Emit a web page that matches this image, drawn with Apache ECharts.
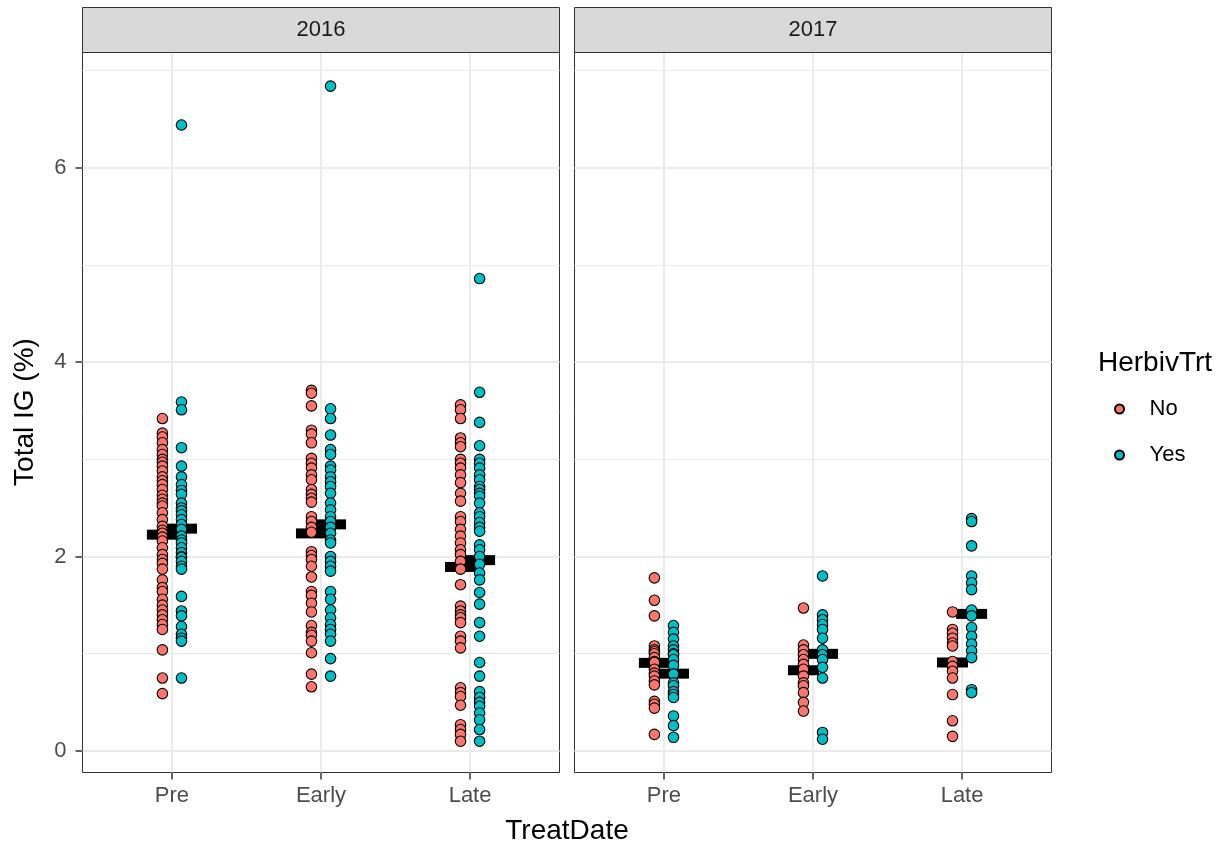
<!DOCTYPE html>
<html><head><meta charset="utf-8">
<script src="https://cdn.jsdelivr.net/npm/echarts@6/dist/echarts.min.js"></script>
<style>html,body{margin:0;padding:0;background:#fff}#chart{width:1226px;height:848px}</style>
</head><body><div id="chart"></div>
<script>
const categories = ['Pre', 'Early', 'Late'];
const years = ['2016', '2017'];
const groups = ['No', 'Yes'];
const yTickValues = [0, 2, 4, 6];
const yMinorValues = [1, 3, 5, 7];

// 2016, HerbivTrt = No
const no2016Pre = [3.42, 3.27, 3.23, 3.17, 3.10, 3.05, 3.00, 2.97, 2.93, 2.88, 2.82, 2.78, 2.74, 2.69, 2.63, 2.59, 2.55, 2.52, 2.45, 2.38, 2.31, 2.27, 2.24, 2.20, 2.16, 2.09, 2.02, 1.97, 1.93, 1.87, 1.76, 1.68, 1.64, 1.56, 1.50, 1.45, 1.40, 1.35, 1.30, 1.25, 1.04, 0.75, 0.59];
const no2016Early = [3.71, 3.68, 3.55, 3.30, 3.26, 3.17, 3.01, 2.96, 2.91, 2.84, 2.79, 2.69, 2.64, 2.60, 2.56, 2.41, 2.36, 2.30, 2.25, 2.05, 2.01, 1.97, 1.90, 1.79, 1.64, 1.60, 1.52, 1.43, 1.29, 1.22, 1.19, 1.13, 1.01, 0.79, 0.66];
const no2016Late = [3.56, 3.51, 3.42, 3.22, 3.17, 3.13, 3.00, 2.96, 2.91, 2.84, 2.76, 2.65, 2.57, 2.41, 2.36, 2.28, 2.21, 2.14, 2.07, 2.02, 1.95, 1.87, 1.71, 1.49, 1.44, 1.40, 1.37, 1.32, 1.18, 1.13, 1.06, 0.65, 0.60, 0.56, 0.47, 0.27, 0.22, 0.17, 0.10];
// 2016, HerbivTrt = Yes
const yes2016Pre = [6.44, 3.59, 3.51, 3.12, 2.93, 2.82, 2.74, 2.68, 2.64, 2.55, 2.50, 2.47, 2.43, 2.38, 2.33, 2.28, 2.21, 2.17, 2.14, 2.09, 2.04, 2.00, 1.99, 1.95, 1.90, 1.87, 1.59, 1.44, 1.39, 1.28, 1.20, 1.16, 1.13, 0.75];
const yes2016Early = [6.84, 3.52, 3.42, 3.25, 3.10, 3.05, 2.93, 2.89, 2.82, 2.77, 2.72, 2.65, 2.55, 2.48, 2.41, 2.36, 2.30, 2.24, 2.17, 2.14, 2.00, 1.95, 1.90, 1.85, 1.64, 1.56, 1.45, 1.37, 1.30, 1.25, 1.20, 1.13, 0.95, 0.77];
const yes2016Late = [4.86, 3.69, 3.38, 3.14, 3.00, 2.96, 2.91, 2.84, 2.79, 2.72, 2.69, 2.65, 2.62, 2.55, 2.45, 2.41, 2.35, 2.30, 2.26, 2.12, 2.07, 2.00, 1.92, 1.83, 1.76, 1.63, 1.51, 1.32, 1.18, 0.91, 0.77, 0.61, 0.55, 0.50, 0.46, 0.39, 0.32, 0.22, 0.10];
// 2017, HerbivTrt = No
const no2017Pre = [1.78, 1.55, 1.39, 1.08, 1.04, 1.02, 1.00, 0.96, 0.92, 0.91, 0.84, 0.80, 0.77, 0.72, 0.68, 0.51, 0.48, 0.44, 0.17];
const no2017Early = [1.47, 1.09, 1.04, 0.99, 0.94, 0.89, 0.84, 0.77, 0.70, 0.67, 0.60, 0.50, 0.41];
const no2017Late = [1.43, 1.25, 1.21, 1.16, 1.11, 1.08, 0.92, 0.87, 0.82, 0.75, 0.58, 0.31, 0.15];
// 2017, HerbivTrt = Yes
const yes2017Pre = [1.29, 1.22, 1.15, 1.08, 1.04, 1.00, 0.99, 0.94, 0.88, 0.79, 0.70, 0.67, 0.61, 0.58, 0.55, 0.36, 0.26, 0.14];
const yes2017Early = [1.80, 1.40, 1.35, 1.30, 1.25, 1.16, 1.04, 0.99, 0.94, 0.86, 0.75, 0.19, 0.12];
const yes2017Late = [2.39, 2.36, 2.11, 1.80, 1.73, 1.66, 1.45, 1.39, 1.27, 1.18, 1.10, 1.03, 0.96, 0.63, 0.60];

// group means (black bars), order Pre, Early, Late
const meanNo2016 = [2.225, 2.238, 1.893];
const meanYes2016 = [2.287, 2.331, 1.963];
const meanNo2017 = [0.906, 0.830, 0.910];
const meanYes2017 = [0.795, 0.999, 1.410];

const pointsByPanel = [
  { No: [no2016Pre, no2016Early, no2016Late], Yes: [yes2016Pre, yes2016Early, yes2016Late] },
  { No: [no2017Pre, no2017Early, no2017Late], Yes: [yes2017Pre, yes2017Early, yes2017Late] }
];
const meansByPanel = [
  { No: meanNo2016, Yes: meanYes2016 },
  { No: meanNo2017, Yes: meanYes2017 }
];

const colors = { No: '#F8766D', Yes: '#00BFC4' };
const DODGE = 0.064;
const offsets = { No: -DODGE, Yes: DODGE };
const FONT = 'Liberation Sans';

const Y_MIN = -0.222, Y_MAX = 7.186;
const gridsPos = [{ left: 82.5, top: 52.5, width: 477, height: 720 }, { left: 574.5, top: 52.5, width: 477, height: 720 }];

const grid = gridsPos.map(g => ({ ...g, show: true, backgroundColor: '#fff', borderColor: '#333333', borderWidth: 1, containLabel: false }));

const xAxis = gridsPos.map((g, i) => ({
  gridIndex: i, type: 'value', min: 0.4, max: 3.6, position: 'bottom',
  axisLine: { show: false, onZero: false },
  axisTick: { show: true, length: 7, customValues: [1, 2, 3], lineStyle: { color: '#333333', width: 1.5 } },
  axisLabel: { show: true, customValues: [1, 2, 3], margin: 12, fontSize: 22, color: '#4d4d4d', fontFamily: FONT,
    formatter: v => categories[Math.round(v) - 1] },
  splitLine: { show: true, lineStyle: { color: '#ebebeb', width: 2 } }
}));

const yAxis = [];
gridsPos.forEach((g, i) => {
  yAxis.push({
    gridIndex: i, type: 'value', min: Y_MIN, max: Y_MAX, position: 'left',
    axisLine: { show: false, onZero: false },
    axisTick: { show: i === 0, length: 7, customValues: yTickValues, lineStyle: { color: '#333333', width: 1.5 } },
    axisLabel: { show: i === 0, customValues: yTickValues, margin: 16, fontSize: 22, color: '#4d4d4d', fontFamily: FONT },
    splitLine: { show: true, lineStyle: { color: '#ebebeb', width: 2 } }
  });
});
gridsPos.forEach((g, i) => {
  yAxis.push({
    gridIndex: i, type: 'value', min: Y_MIN, max: Y_MAX, position: 'left',
    axisLine: { show: false, onZero: false },
    axisTick: { show: false, customValues: yMinorValues },
    axisLabel: { show: false, customValues: yMinorValues },
    splitLine: { show: true, lineStyle: { color: '#ebebeb', width: 1 } }
  });
});

const series = [];
years.forEach((yr, p) => {
  groups.forEach(gr => {
    series.push({
      name: 'mean ' + gr + ' ' + yr, type: 'scatter', xAxisIndex: p, yAxisIndex: p,
      symbol: 'rect', symbolSize: [31, 10], silent: true,
      itemStyle: { color: '#000', opacity: 1 },
      data: meansByPanel[p][gr].map((v, ci) => [ci + 1 + offsets[gr], v])
    });
  });
});
years.forEach((yr, p) => {
  groups.forEach(gr => {
    const data = [];
    pointsByPanel[p][gr].forEach((arr, ci) => arr.forEach(v => data.push([ci + 1 + offsets[gr], v])));
    series.push({
      name: gr, type: 'scatter', xAxisIndex: p, yAxisIndex: p,
      symbol: 'circle', symbolSize: 10.5, silent: true,
      itemStyle: { color: colors[gr], borderColor: '#000', borderWidth: 1.1, opacity: 1 },
      data
    });
  });
});

const graphic = [];
years.forEach((yr, p) => {
  const g = gridsPos[p];
  graphic.push({ type: 'rect', shape: { x: g.left, y: 7.5, width: g.width, height: 45 },
    style: { fill: '#d9d9d9', stroke: '#333333', lineWidth: 1 }, z: 10 });
  graphic.push({ type: 'text', x: g.left + g.width / 2, y: 30, z: 11,
    style: { text: yr, fill: '#1a1a1a', font: '22px "' + FONT + '"', textAlign: 'center', textVerticalAlign: 'middle' } });
});
graphic.push({ type: 'text', x: 25, y: 412, rotation: Math.PI / 2, z: 11,
  style: { text: 'Total IG (%)', fill: '#000', font: '28px "' + FONT + '"', textAlign: 'center', textVerticalAlign: 'middle' } });
graphic.push({ type: 'text', x: 567, y: 831, z: 11,
  style: { text: 'TreatDate', fill: '#000', font: '28px "' + FONT + '"', textAlign: 'center', textVerticalAlign: 'middle' } });
graphic.push({ type: 'text', x: 1098, y: 363, z: 11,
  style: { text: 'HerbivTrt', fill: '#000', font: '28px "' + FONT + '"', textAlign: 'left', textVerticalAlign: 'middle' } });

const chart = echarts.init(document.getElementById('chart'), null, { renderer: 'canvas' });
chart.setOption({
  animation: false,
  backgroundColor: '#fff',
  grid, xAxis, yAxis, series, graphic,
  legend: {
    data: groups, orient: 'vertical', left: 1109, top: 393,
    itemWidth: 50, itemHeight: 9, itemGap: 24, icon: 'circle', selectedMode: false,
    textStyle: { fontSize: 22, color: '#000', fontFamily: FONT }
  }
});
</script>
</body></html>
